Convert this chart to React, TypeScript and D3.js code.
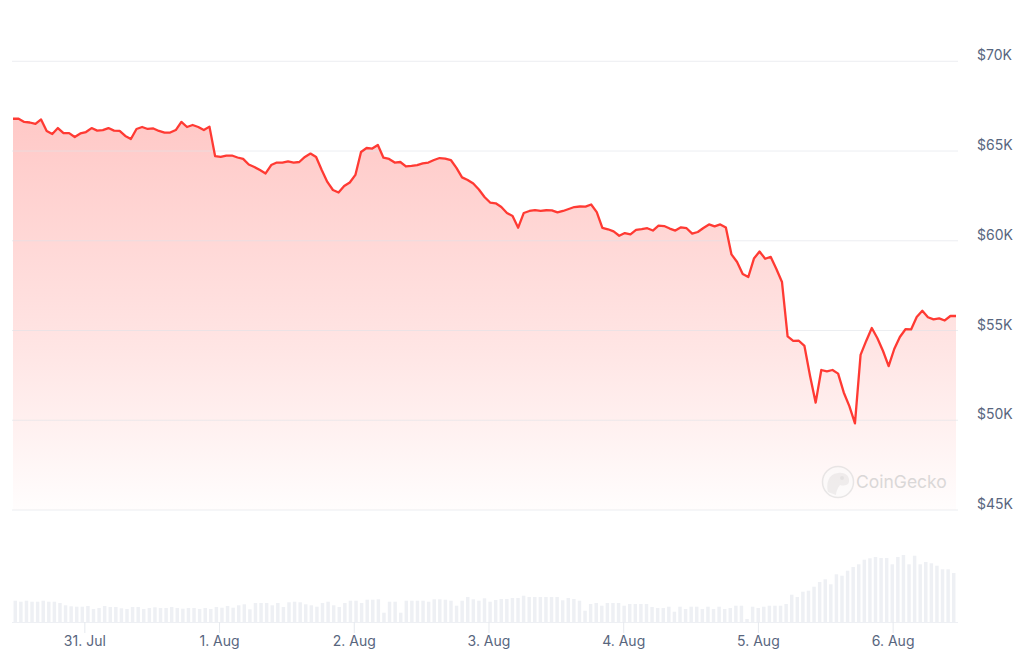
import React from "react";
import * as d3 from "d3";

const prices: number[] = [
  66800, 66800, 66620, 66590, 66510, 66760, 66120, 65950, 66280, 66000,
  66000, 65780, 65980, 66060, 66280, 66140, 66170, 66280, 66140, 66120,
  65840, 65670, 66230, 66340, 66230, 66260, 66120, 66030, 66030, 66170,
  66620, 66340, 66450, 66340,
  66170, 66360, 64720, 64680, 64750, 64750, 64640, 64560, 64250, 64110,
  63940, 63750, 64220, 64360, 64350, 64420, 64350, 64390, 64670, 64860,
  64670, 63940, 63280, 62830, 62690, 63050, 63250, 63670, 64950, 65170,
  65140, 65340, 64630, 64560, 64360,
  64390, 64140, 64170, 64220, 64310, 64360, 64500, 64610, 64580, 64500,
  64060, 63530, 63390, 63190, 62860, 62440, 62130, 62090, 61880, 61550,
  61380, 60730, 61550, 61660, 61710, 61670, 61700, 61690, 61580, 61660,
  61770, 61880, 61910, 61900, 62020, 61600, 60720, 60640, 60520, 60280,
  60430, 60360, 60610, 60650, 60700, 60570, 60840, 60820, 60680, 60570,
  60750, 60700, 60400, 60490, 60710, 60910, 60800, 60910, 60740, 59240,
  58820, 58150, 57980, 59010, 59400, 59000, 59100, 58430, 57700, 54670,
  54420, 54430, 54140, 52470, 50980, 52800, 52720, 52800, 52600, 51550,
  50790, 49830, 53640, 54420, 55140, 54570, 53860, 53020, 53970, 54640,
  55070, 55060, 55750, 56100, 55740, 55620, 55680, 55560, 55810, 55810,
];

// hourly volume, billions USD
const volumes: number[] = [
  2.13, 2.03, 2.13, 2.03, 2.03, 2.13, 2.03, 2.03, 1.9, 1.67,
  1.57, 1.53, 1.53, 1.6, 1.3, 1.4, 1.6, 1.5, 1.5, 1.37,
  1.3, 1.5, 1.5, 1.3, 1.4, 1.47, 1.4, 1.4, 1.5, 1.4,
  1.33, 1.4, 1.4, 1.3, 1.4, 1.3, 1.5, 1.43, 1.6, 1.43,
  1.67, 1.77, 1.27, 1.9, 1.9, 1.9, 1.67, 1.9, 1.5, 1.97,
  2.03, 1.97, 1.77, 1.67, 1.53, 1.9, 2.03, 1.67, 1.5, 1.9,
  2.13, 2.13, 1.9, 2.23, 2.23, 2.27, 0.93, 2.03, 2.03, 0.93,
  2.13, 2.13, 2.13, 2.13, 2.03, 2.27, 2.27, 2.23, 2.13, 1.63,
  2.13, 2.5, 2.27, 2.13, 2.37, 2.03, 2.2, 2.3,
  2.3, 2.4, 2.4, 2.63, 2.5, 2.5, 2.5, 2.5, 2.5, 2.5,
  2.17, 2.4, 2.3, 2.13, 1.13, 1.8, 1.9, 1.63, 1.9, 1.9,
  1.9, 1.63, 1.8, 1.8, 1.8, 1.8, 1.5, 1.4, 1.4, 1.53,
  1.03, 1.53, 1.3, 1.53, 1.53, 1.3, 1.53, 1.3, 1.53, 1.3,
  1.4, 1.63, 1.63, 0.3, 1.53, 1.4, 1.53, 1.63, 1.63, 1.63,
  1.8, 2.73, 2.5, 3.03, 3.13, 3.53, 4.0, 4.27, 3.77, 4.77,
  4.63, 5.13, 5.5, 5.77, 6.23, 6.37, 6.5, 6.4, 6.4, 5.77,
  6.5, 6.7, 5.77, 6.63, 5.77, 6.0, 5.87, 5.63, 5.27, 5.27, 4.9,
];

const startTime = Date.UTC(2024, 6, 30, 11, 12);
const HOUR = 3600 * 1000;
const times: Date[] = prices.map((_, i) => new Date(startTime + i * HOUR));

const xTickDates: Date[] = [
  new Date(Date.UTC(2024, 6, 31)),
  new Date(Date.UTC(2024, 7, 1)),
  new Date(Date.UTC(2024, 7, 2)),
  new Date(Date.UTC(2024, 7, 3)),
  new Date(Date.UTC(2024, 7, 4)),
  new Date(Date.UTC(2024, 7, 5)),
  new Date(Date.UTC(2024, 7, 6)),
];
const xTickLabels: string[] = ["31. Jul", "1. Aug", "2. Aug", "3. Aug", "4. Aug", "5. Aug", "6. Aug"];
const yTicks: number[] = [45000, 50000, 55000, 60000, 65000, 70000];
const yTickLabels: string[] = ["$45K", "$50K", "$55K", "$60K", "$65K", "$70K"];

const W = 1025;
const H = 666;
const plotLeft = 13;
const plotRight = 956;
const gridLeft = 12;
const gridRight = 958;
const yTop = 61.3;
const yBottom = 510;
const volBase = 622;

const LINE = "#ff3a33";
const TEXT = "#58667e";
const FONT = "Inter, 'Noto Sans', sans-serif";

export default function App() {
  const x = d3
    .scaleUtc()
    .domain([times[0], times[times.length - 1]])
    .range([plotLeft, plotRight]);
  const y = d3.scaleLinear().domain([45000, 70000]).range([yBottom, yTop]);
  const yVol = d3.scaleLinear().domain([0, 10]).range([volBase, volBase - 100]);
  const band = d3
    .scaleBand<number>()
    .domain(volumes.map((_, i) => i))
    .range([plotLeft, plotRight])
    .paddingInner(0.38)
    .paddingOuter(0.1);

  const line = d3
    .line<number>()
    .x((_, i) => x(times[i]))
    .y((d) => y(d));
  const area = d3
    .area<number>()
    .x((_, i) => x(times[i]))
    .y0(yBottom)
    .y1((d) => y(d));

  return (
    <svg
      width={W}
      height={H}
      style={{ position: "absolute", left: 0, top: 0, background: "#fff" }}
    >
      <defs>
        <linearGradient id="fillGrad" gradientUnits="userSpaceOnUse" x1="0" y1={yTop + 50} x2="0" y2={yBottom}>
          <stop offset="0" stopColor={LINE} stopOpacity={0.28} />
          <stop offset="0.6" stopColor={LINE} stopOpacity={0.13} />
          <stop offset="1" stopColor={LINE} stopOpacity={0.01} />
        </linearGradient>
      </defs>

      {/* volume bars */}
      {volumes.map((v, i) => (
        <rect
          key={"v" + i}
          x={band(i)!}
          y={yVol(v)}
          width={band.bandwidth()}
          height={volBase - yVol(v)}
          fill="#eef0f4"
        />
      ))}
      <line x1={gridLeft} x2={gridRight} y1={volBase + 0.5} y2={volBase + 0.5} stroke="#eef0f4" />

      {/* area */}
      <path d={area(prices)!} fill="url(#fillGrad)" />

      {/* grid */}
      {yTicks.map((t) => (
        <line
          key={"g" + t}
          x1={gridLeft}
          x2={gridRight}
          y1={y(t)}
          y2={y(t)}
          stroke="#dfe3e8"
          strokeOpacity={0.6}
          strokeWidth={1}
        />
      ))}

      {/* line */}
      <path d={line(prices)!} fill="none" stroke={LINE} strokeWidth={2.3} strokeLinejoin="round" />

      {/* y labels */}
      {yTicks.map((t, i) => (
        <text
          key={"yl" + t}
          x={977}
          y={y(t) - 1}
          fontFamily={FONT}
          fontSize={14}
          fill={TEXT}
        >
          {yTickLabels[i]}
        </text>
      ))}

      {/* x ticks */}
      {xTickDates.map((d, i) => (
        <g key={"xt" + i}>
          <line x1={x(d)} x2={x(d)} y1={volBase} y2={volBase + 11} stroke="#e6e9ee" />
          <text
            x={x(d)}
            y={645.5}
            textAnchor="middle"
            fontFamily={FONT}
            fontSize={14}
            fill={TEXT}
          >
            {xTickLabels[i]}
          </text>
        </g>
      ))}

      {/* watermark */}
      <g opacity={0.55}>
        <circle cx={838} cy={482} r={15.5} fill="#fafafa" stroke="#d6d6d6" strokeWidth={1.5} />
        <path
          d="M828,492 C826,484 828,474 838,473 C846,472 850,477 849,482 C848,486 843,486 840,485 C837,489 836,492 836,495 Z"
          fill="#e2e2e2"
        />
        <circle cx={842} cy={478} r={2} fill="#cfcfcf" />
        <text x={856} y={488} fontFamily={FONT} fontSize={17.5} fill="#bdbdbd">
          CoinGecko
        </text>
      </g>
    </svg>
  );
}
